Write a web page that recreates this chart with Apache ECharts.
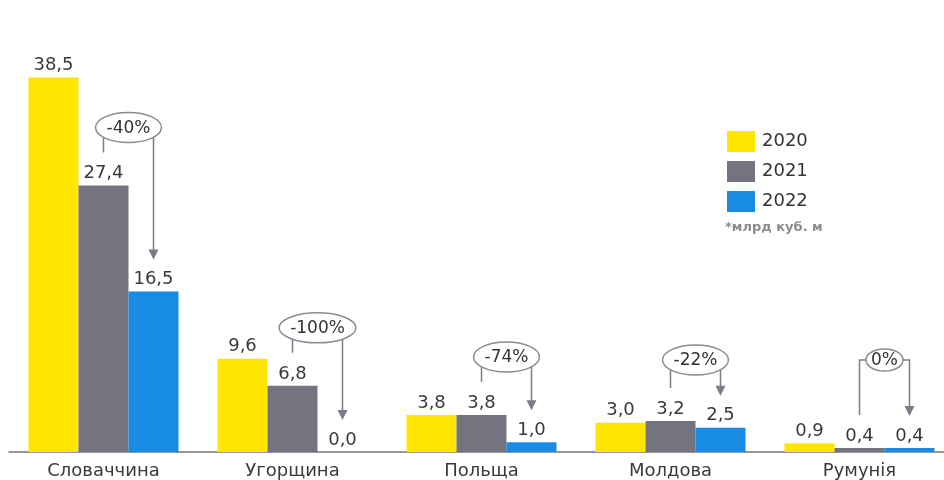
<!DOCTYPE html>
<html style="height: 100%">
<head>
	<meta charset="utf-8">
	<title>Gas exports</title>
	<script src="https://cdn.jsdelivr.net/npm/echarts@6/dist/echarts.min.js"></script>
</head>
<body style="height: 100%; margin: 0; background: #fff">

	<div id="main" style="width: 944px; height: 480px"></div>

	<script type="text/javascript">

		// data, млрд куб. м
		var countries = ['Словаччина', 'Угорщина', 'Польща', 'Молдова', 'Румунія'];
		var years = ['2020', '2021', '2022'];
		var v2020 = [38.5, 9.6, 3.8, 3.0, 0.9];
		var v2021 = [27.4, 6.8, 3.8, 3.2, 0.4];
		var v2022 = [16.5, 0.0, 1.0, 2.5, 0.4];
		var changes = ['-40%', '-100%', '-74%', '-22%', '0%'];

		var colors = ['#FFE600', '#747480', '#188CE5'];
		var FONT = 'DejaVu Sans';
		var BAR_W = 50;

		var measure = document.createElement('canvas').getContext('2d');
		measure.font = '17px "' + FONT + '"';

		var fmt = function(p){
			return p.value.toFixed(1).replace('.', ',');
		}

		var barSeries = function(name, data, color){
			return {
				name: name,
				type: 'bar',
				data: data,
				barWidth: BAR_W,
				barGap: '0%',
				itemStyle: { color: color },
				label: {
					show: true,
					position: 'top',
					distance: 3,
					fontFamily: FONT,
					fontSize: 18,
					color: '#3a3a3a',
					formatter: fmt
				}
			};
		}

		// arrows + ovals with the change 2021 -> 2022
		var renderChange = function(params, api){
			var i = api.value(0);
			var p1 = api.coord([i, api.value(1)]);
			var p2 = api.coord([i, api.value(2)]);
			var base = api.coord([i, 0])[1];
			var x1 = p1[0];
			var x2 = p1[0] + BAR_W;
			var cx = (x1 + x2) / 2;
			var bottom = p1[1] - 33;
			var tip = p2[1] - 32;
			var cy = Math.min(p1[1] - 58, base - 92);
			var txt = changes[params.dataIndex];
			var tw = measure.measureText(txt).width;
			var small = tw < 30;
			var rx = tw / 2 + (small ? 5 : 11);
			var ry = small ? 11 : 15;
			var line = { stroke: '#7d7d89', lineWidth: 1.5, fill: null };

			return {
				type: 'group',
				children: [
					{ type: 'polyline', shape: { points: [[x1, bottom], [x1, cy], [cx, cy]] }, style: line },
					{ type: 'polyline', shape: { points: [[cx, cy], [x2, cy], [x2, tip - 8]] }, style: line },
					{ type: 'polygon', shape: { points: [[x2 - 5, tip - 10], [x2 + 5, tip - 10], [x2, tip]] }, style: { fill: '#7d7d89' } },
					{ type: 'ellipse', shape: { cx: cx, cy: cy, rx: rx, ry: ry }, style: { fill: '#fff', stroke: '#8a8a94', lineWidth: 1.5 } },
					{ type: 'text', x: cx, y: cy + 1, style: { text: txt, align: 'center', verticalAlign: 'middle', font: '17px "' + FONT + '"', fill: '#333' } }
				]
			};
		}

		var changeData = [];
		for (var i = 0; i < countries.length; i++) {
			changeData.push([i, v2021[i], v2022[i]]);
		}

		var myChart = echarts.init(document.getElementById('main'));

		var option = {
			animation: false,
			grid: {
				left: 9,
				width: 945,
				top: 63,
				bottom: 28,
				outerBoundsMode: 'none',
				containLabel: false
			},
			legend: {
				data: years,
				orient: 'vertical',
				left: 727,
				top: 131,
				padding: 0,
				itemWidth: 28,
				itemHeight: 21,
				itemGap: 9,
				icon: 'rect',
				textStyle: {
					fontFamily: FONT,
					fontSize: 18,
					color: '#333',
					padding: [0, 0, 0, 2]
				}
			},
			graphic: [{
				type: 'text',
				left: 725,
				top: 221,
				style: {
					text: '*млрд куб. м',
					font: 'bold 13px "' + FONT + '"',
					fill: '#8c8c8c'
				}
			}],
			xAxis: {
				type: 'category',
				data: countries,
				axisLine: { lineStyle: { color: '#777', width: 1.5 } },
				axisTick: { show: false },
				axisLabel: {
					fontFamily: FONT,
					fontSize: 18,
					color: '#3a3a3a',
					margin: 10
				}
			},
			yAxis: {
				type: 'value',
				min: 0,
				max: 40,
				show: false,
				splitLine: { show: false }
			},
			series: [
				barSeries(years[0], v2020, colors[0]),
				barSeries(years[1], v2021, colors[1]),
				barSeries(years[2], v2022, colors[2]),
				{
					type: 'custom',
					silent: true,
					z: 5,
					renderItem: renderChange,
					data: changeData
				}
			]
		};

		myChart.setOption(option);

	</script>

</body>
</html>
